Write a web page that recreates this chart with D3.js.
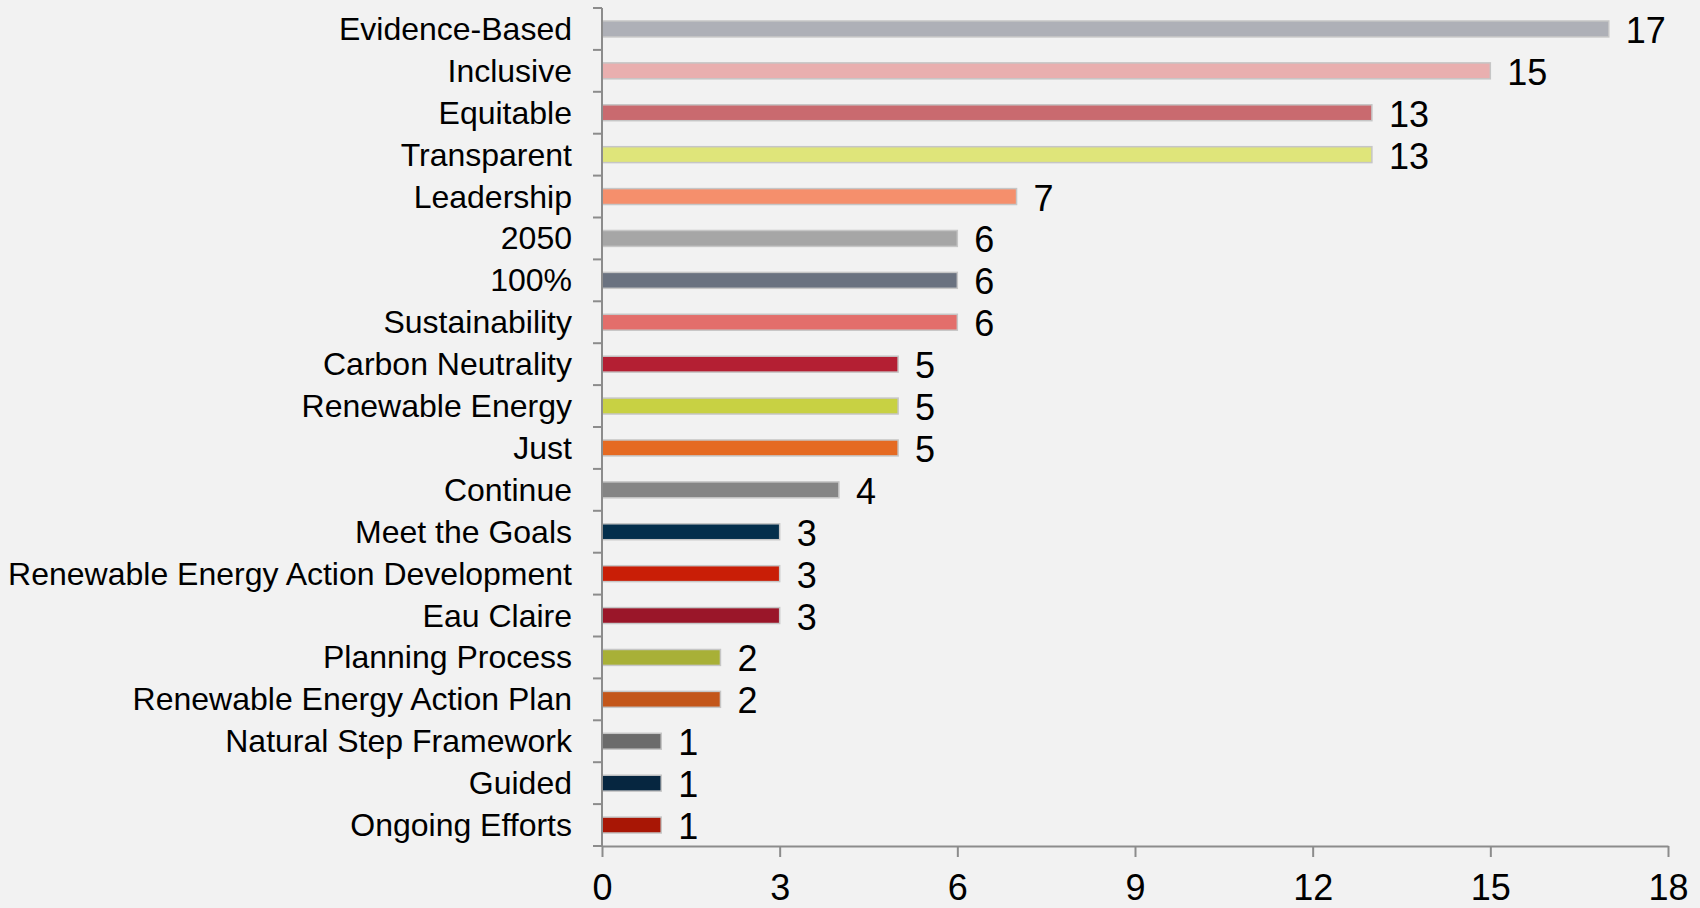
<!DOCTYPE html>
<html>
<head>
<meta charset="utf-8">
<script src="https://cdn.jsdelivr.net/npm/d3@7"></script>
<style>
    body { margin: 0; background: #f2f2f2; }
    svg { display: block; }
    text { font-family: "Liberation Sans", Arial, sans-serif; fill: #000; }
</style>
</head>
<body>
<div class="chart"></div>
<script>
const categories = [
    "Evidence-Based", "Inclusive", "Equitable", "Transparent", "Leadership",
    "2050", "100%", "Sustainability", "Carbon Neutrality", "Renewable Energy",
    "Just", "Continue", "Meet the Goals", "Renewable Energy Action Development",
    "Eau Claire", "Planning Process", "Renewable Energy Action Plan",
    "Natural Step Framework", "Guided", "Ongoing Efforts"
]
const counts = [17, 15, 13, 13, 7, 6, 6, 6, 5, 5, 5, 4, 3, 3, 3, 2, 2, 1, 1, 1]
const bar_colors = [
    "#aeb0b7", "#e9afaf", "#c96a6f", "#dfe57a", "#f58f6c",
    "#a6a6a6", "#6a7280", "#e36e6b", "#b41f33", "#c8d143",
    "#e56a22", "#858585", "#042f4c", "#c91e06", "#9a1629",
    "#a8b037", "#c3561a", "#6b6b6b", "#062640", "#a81605"
]
const x_ticks = [0, 3, 6, 9, 12, 15, 18]

const ctx = {
    W: 1700,
    H: 908,
    left: 602,
    right: 1668,
    top: 8,
    bottom: 846,
}

function render_chart() {
    const svg = d3.select(".chart")
        .append("svg")
        .attr("width", ctx.W)
        .attr("height", ctx.H)

    svg.append("rect")
        .attr("width", ctx.W)
        .attr("height", ctx.H)
        .attr("fill", "#f2f2f2")

    const x = d3.scaleLinear().domain([0, 18]).range([ctx.left, ctx.right])
    const y = d3.scaleBand().domain(categories).range([ctx.top, ctx.bottom]).paddingInner(0).paddingOuter(0)
    const bar_h = y.bandwidth() * 0.38

    // bars
    svg.append("g")
        .attr("id", "bars")
        .selectAll("rect")
        .data(categories)
        .enter()
        .append("rect")
        .attr("x", x(0))
        .attr("y", d => y(d) + y.bandwidth() / 2 - bar_h / 2)
        .attr("width", (d, i) => x(counts[i]) - x(0))
        .attr("height", bar_h)
        .attr("fill", (d, i) => bar_colors[i])
        .attr("stroke", "#c6c6c6")
        .attr("stroke-width", 1.5)

    // value labels
    svg.append("g")
        .attr("id", "values")
        .selectAll("text")
        .data(categories)
        .enter()
        .append("text")
        .attr("x", (d, i) => x(counts[i]) + 17)
        .attr("y", d => y(d) + y.bandwidth() / 2 + 14)
        .attr("font-size", 36)
        .text((d, i) => counts[i])

    // y axis
    const y_axis = svg.append("g")
        .attr("transform", `translate(${ctx.left},0)`)
        .call(d3.axisLeft(y).tickSize(0).tickPadding(30))
    y_axis.select(".domain").remove()
    y_axis.selectAll("text")
        .attr("font-size", 32)
        .attr("dy", null)
        .attr("y", 11)
        .style("font-family", '"Liberation Sans", Arial, sans-serif')

    const y_grid = y.domain().map(d => y(d)).concat([ctx.bottom])
    svg.append("g")
        .attr("id", "y-ticks")
        .selectAll("line")
        .data(y_grid)
        .enter()
        .append("line")
        .attr("x1", ctx.left - 9)
        .attr("x2", ctx.left)
        .attr("y1", d => d)
        .attr("y2", d => d)
        .attr("stroke", "#8c8c8c")
        .attr("stroke-width", 2)

    svg.append("line")
        .attr("x1", ctx.left)
        .attr("x2", ctx.left)
        .attr("y1", ctx.top)
        .attr("y2", ctx.bottom)
        .attr("stroke", "#8c8c8c")
        .attr("stroke-width", 2)

    // x axis
    const x_axis = svg.append("g")
        .attr("transform", `translate(0,${ctx.bottom})`)
        .call(d3.axisBottom(x).tickValues(x_ticks).tickSize(11).tickSizeOuter(0).tickPadding(20))
    x_axis.select(".domain").attr("stroke", "#8c8c8c").attr("stroke-width", 2)
    x_axis.selectAll(".tick line").attr("stroke", "#8c8c8c").attr("stroke-width", 2)
    x_axis.selectAll("text")
        .attr("font-size", 36)
        .attr("dy", null)
        .attr("y", 54)
        .style("font-family", '"Liberation Sans", Arial, sans-serif')
}

render_chart()
</script>
</body>
</html>
